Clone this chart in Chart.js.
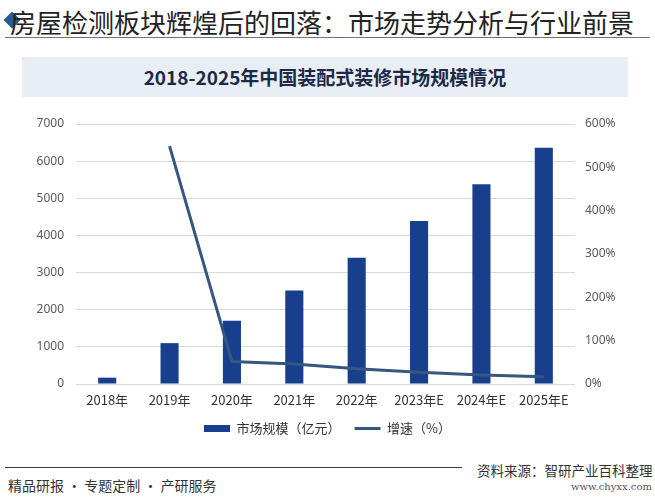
<!DOCTYPE html>
<html>
<head>
<meta charset="utf-8">
<script src="https://cdn.jsdelivr.net/npm/chart.js@4/dist/chart.umd.min.js"></script>
<style>
  body { margin: 0; background: #fff; font-family: "Noto Sans CJK SC", sans-serif; }
  #page { position: relative; width: 655px; height: 500px; overflow: hidden; background: #fff; }
  .head { position: absolute; left: 10px; top: 3px; font-size: 26px; color: #222; white-space: nowrap; }
  .diamond { position: absolute; left: 6px; top: 14px; width: 12px; height: 12px; background: #2c5a96; transform: rotate(45deg); }
  .rule { position: absolute; left: 5px; top: 37px; width: 645px; height: 1px; background: #6a7480; }
  .subbox { position: absolute; left: 22px; top: 57px; width: 606px; height: 40px; background: #e9eef5;
            text-align: center; line-height: 40px; font-size: 19px; font-weight: bold; color: #1c2948; }
  #chartWrap { position: absolute; left: 0; top: 100px; width: 655px; height: 345px; }
  .footRule { position: absolute; left: 5px; top: 467px; width: 457px; height: 1px; background: #2f3f55; }
  .footLeft { position: absolute; left: 8px; top: 475px; font-size: 14px; color: #333; white-space: nowrap; }
  .footSrc { position: absolute; left: 477px; top: 460px; font-size: 13.5px; color: #333; white-space: nowrap; }
  .footUrl { position: absolute; left: 571px; top: 481px; font-size: 10px; color: #555; font-family: "DejaVu Serif", "Liberation Serif", serif; }
</style>
</head>
<body>
<div id="page">
  <div class="diamond"></div>
  <div class="head">房屋检测板块辉煌后的回落：市场走势分析与行业前景</div>
  <div class="rule"></div>
  <div class="subbox">2018-2025年中国装配式装修市场规模情况</div>
  <div id="chartWrap"><canvas id="mainChart" width="655" height="345"></canvas></div>
  <div class="footRule"></div>
  <div class="footLeft">精品研报 · 专题定制 · 产研服务</div>
  <div class="footSrc">资料来源：智研产业百科整理</div>
  <div class="footUrl">www.chyxx.com</div>
</div>
<script>
// categories and series
const years = ['2018年', '2019年', '2020年', '2021年', '2022年', '2023年E', '2024年E', '2025年E'];
const marketSize = [170, 1100, 1700, 2520, 3400, 4390, 5380, 6360];   // 亿元
const growthRate = [null, 549, 52, 46, 35, 27, 21, 17];             // %
const leftTicks = [0, 1000, 2000, 3000, 4000, 5000, 6000, 7000];
const rightTicks = [0, 100, 200, 300, 400, 500, 600];

const BAR_COLOR = '#173f8c';
const LINE_COLOR = '#36577f';

const ctx = document.getElementById('mainChart').getContext('2d');
new Chart(ctx, {
  data: {
    labels: years,
    datasets: [
      {
        type: 'bar', label: '市场规模（亿元）', data: marketSize,
        backgroundColor: BAR_COLOR, borderWidth: 0,
        barPercentage: 0.29, categoryPercentage: 1, yAxisID: 'y', order: 1
      },
      {
        type: 'line', label: '增速（%）', data: growthRate,
        borderColor: LINE_COLOR, backgroundColor: LINE_COLOR, borderWidth: 3,
        pointRadius: 0, tension: 0, yAxisID: 'y1', order: 0
      }
    ]
  },
  options: {
    responsive: false, animation: false,
    layout: { padding: { top: 24, left: 0, right: 0, bottom: 0 } },
    plugins: {
      tooltip: { enabled: false },
      legend: {
        position: 'bottom',
        labels: {
          usePointStyle: true, pointStyleWidth: 26, boxWidth: 26, boxHeight: 7,
          color: '#333', font: { size: 13, family: '"Noto Sans CJK SC", sans-serif' }, padding: 14,
          generateLabels(chart) {
            const items = Chart.defaults.plugins.legend.labels.generateLabels(chart);
            items.sort((a, b) => a.datasetIndex - b.datasetIndex);
            items.forEach(it => {
              if (it.datasetIndex === 0) { it.pointStyle = 'rect'; it.lineWidth = 0; }
              else { it.pointStyle = 'line'; it.lineWidth = 3; it.strokeStyle = LINE_COLOR; }
            });
            return items;
          }
        }
      }
    },
    scales: {
      x: {
        grid: { display: false, drawTicks: false }, border: { display: false },
        ticks: { color: '#333', font: { size: 13, family: '"Noto Sans CJK SC", sans-serif' }, padding: 8, maxRotation: 0 },
        afterFit: s => { s.height = 24; }
      },
      y: {
        position: 'left', min: 0, max: 7000,
        afterBuildTicks: s => { s.ticks = leftTicks.map(v => ({ value: v })); },
        grid: { color: '#d9d9d9', drawTicks: false }, border: { display: false },
        ticks: { color: '#595959', font: { size: 12, family: '"Noto Sans", sans-serif' }, padding: 12,
                 callback: v => String(v) },
        afterFit: s => { s.width = 76; }
      },
      y1: {
        position: 'right', min: 0, max: 600,
        afterBuildTicks: s => { s.ticks = rightTicks.map(v => ({ value: v })); },
        grid: { display: false, drawTicks: false }, border: { display: false },
        ticks: { color: '#595959', font: { size: 12, family: '"Noto Sans", sans-serif' }, padding: 10,
                 callback: v => v + '%' },
        afterFit: s => { s.width = 80; }
      }
    }
  }
});
</script>
</body>
</html>
